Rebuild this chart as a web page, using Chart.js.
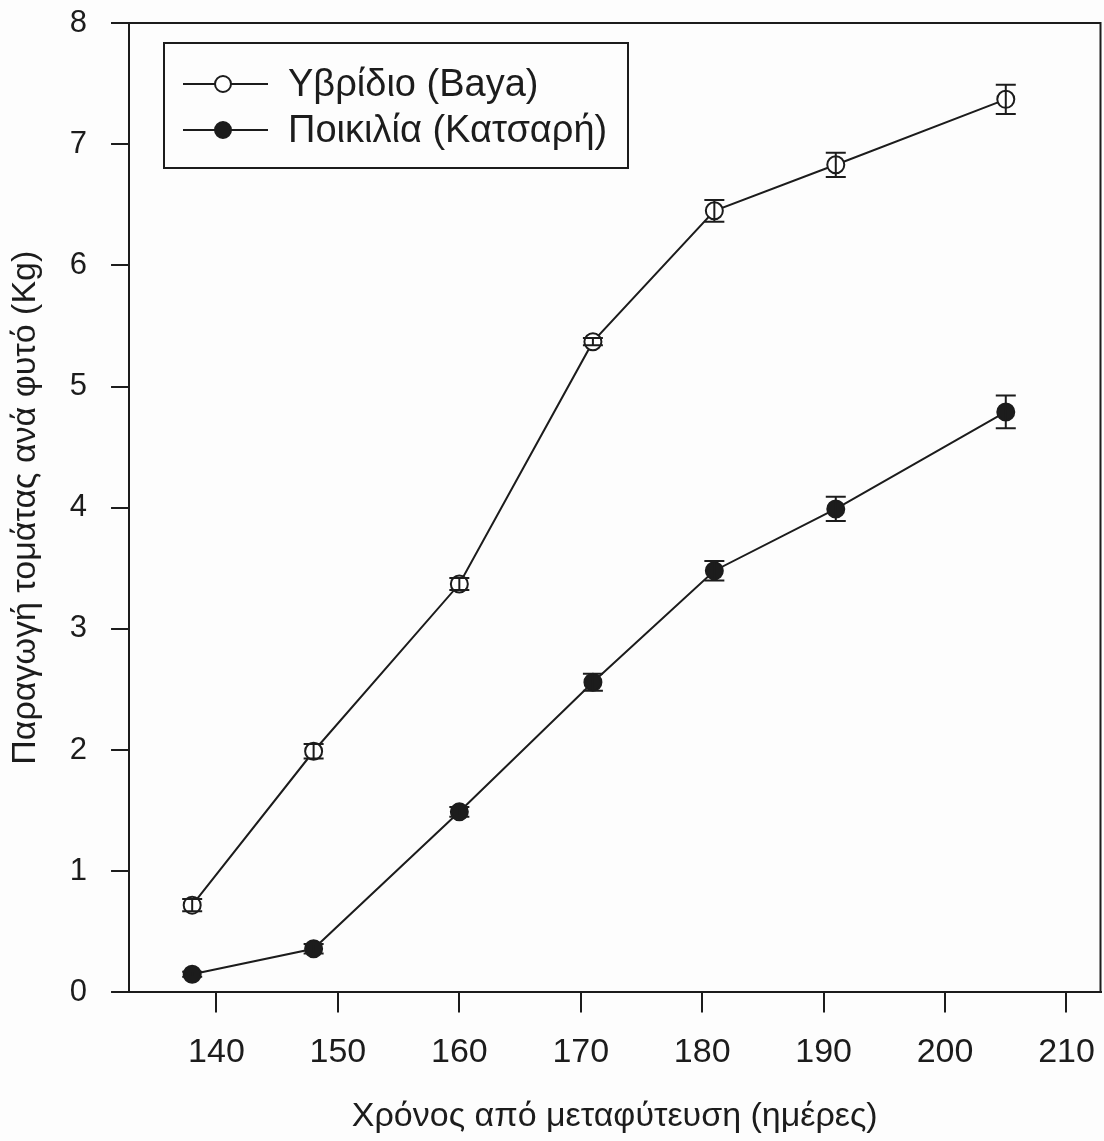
<!DOCTYPE html>
<html>
<head>
<meta charset="utf-8">
<script src="https://cdn.jsdelivr.net/npm/chart.js@4.4.1/dist/chart.umd.min.js"></script>
<style>
html,body{margin:0;padding:0;background:#fdfdfd;overflow:hidden;}
#wrap{width:1104px;height:1141px;position:relative;overflow:hidden;}
#c{position:absolute;left:0;top:0;}
</style>
</head>
<body>
<div id="wrap"><canvas id="c" width="1111" height="1141"></canvas></div>
<script>
const days = [138, 148, 160, 171, 181, 191, 205];
const hybridValues = [0.72, 1.99, 3.37, 5.37, 6.45, 6.83, 7.37];
const hybridErrors = [0.05, 0.06, 0.05, 0.03, 0.09, 0.10, 0.12];
const varietyValues = [0.15, 0.36, 1.49, 2.56, 3.48, 3.99, 4.79];
const varietyErrors = [0.02, 0.04, 0.04, 0.07, 0.08, 0.10, 0.135];
const seriesNames = ['Υβρίδιο (Baya)', 'Ποικιλία (Κατσαρή)'];
const xTicks = [140, 150, 160, 170, 180, 190, 200, 210];
const yTicks = [0, 1, 2, 3, 4, 5, 6, 7, 8];
const xTitle = 'Χρόνος από μεταφύτευση (ημέρες)';
const yTitle = 'Παραγωγή τομάτας ανά φυτό (Kg)';

const INK = '#1c1c1c';
const FONT = "'Liberation Sans', Arial, sans-serif";

const toPts = (xs, ys) => xs.map((x, i) => ({x: x, y: ys[i]}));

const errorBars = {
  id: 'errorBars',
  afterDatasetsDraw(chart) {
    const ctx = chart.ctx, xs = chart.scales.x, ys = chart.scales.y;
    ctx.save();
    ctx.strokeStyle = INK; ctx.lineWidth = 2;
    chart.data.datasets.forEach(ds => {
      ds.data.forEach((p, i) => {
        const e = ds.errors[i];
        const px = xs.getPixelForValue(p.x);
        const top = ys.getPixelForValue(p.y + e), bot = ys.getPixelForValue(p.y - e);
        ctx.beginPath();
        ctx.moveTo(px, top); ctx.lineTo(px, bot);
        ctx.moveTo(px - 10, top); ctx.lineTo(px + 10, top);
        ctx.moveTo(px - 10, bot); ctx.lineTo(px + 10, bot);
        ctx.stroke();
      });
    });
    ctx.restore();
  }
};

const frame = {
  id: 'frame',
  beforeDatasetsDraw(chart) {
    const a = chart.chartArea, ctx = chart.ctx;
    ctx.save();
    ctx.strokeStyle = INK; ctx.lineWidth = 2;
    ctx.beginPath();
    ctx.moveTo(a.left - 18, a.top); ctx.lineTo(a.right, a.top); ctx.lineTo(a.right, a.bottom);
    ctx.stroke();
    ctx.restore();
  }
};

const boxLegend = {
  id: 'boxLegend',
  afterDraw(chart) {
    const ctx = chart.ctx;
    const x0 = 164, y0 = 43, w = 464, h = 125;
    ctx.save();
    ctx.fillStyle = '#fdfdfd';
    ctx.fillRect(x0, y0, w, h);
    ctx.strokeStyle = INK; ctx.lineWidth = 2;
    ctx.strokeRect(x0, y0, w, h);
    chart.data.datasets.forEach((ds, i) => {
      const cy = 84 + i * 46;
      ctx.beginPath();
      ctx.moveTo(183, cy); ctx.lineTo(268, cy);
      ctx.strokeStyle = INK; ctx.lineWidth = 2; ctx.stroke();
      ctx.beginPath();
      ctx.arc(223, cy, 8, 0, Math.PI * 2);
      ctx.fillStyle = ds.pointBackgroundColor; ctx.fill();
      ctx.stroke();
      ctx.fillStyle = INK;
      ctx.font = '38px ' + FONT;
      ctx.textBaseline = 'middle';
      ctx.fillText(ds.label, 288, cy + 2);
    });
    ctx.restore();
  }
};

new Chart(document.getElementById('c'), {
  type: 'line',
  data: {
    datasets: [
      {label: seriesNames[0], data: toPts(days, hybridValues), errors: hybridErrors,
       borderColor: INK, borderWidth: 2, pointRadius: 8.5, pointBackgroundColor: '#ffffff',
       pointBorderColor: INK, pointBorderWidth: 2, tension: 0},
      {label: seriesNames[1], data: toPts(days, varietyValues), errors: varietyErrors,
       borderColor: INK, borderWidth: 2, pointRadius: 8.5, pointBackgroundColor: INK,
       pointBorderColor: INK, pointBorderWidth: 2, tension: 0}
    ]
  },
  options: {
    responsive: false,
    animation: false,
    layout: {padding: {top: 23, right: 4, left: 0, bottom: 0}},
    plugins: {legend: {display: false}, tooltip: {enabled: false}},
    scales: {
      x: {
        type: 'linear', min: 132.8, max: 212.8,
        afterBuildTicks: s => { s.ticks = xTicks.map(v => ({value: v})); },
        afterFit: s => { s.paddingLeft = 0; s.paddingRight = 0; },
        grid: {drawOnChartArea: false, tickLength: 20, color: INK, lineWidth: 2},
        border: {color: INK, width: 2},
        ticks: {color: INK, font: {size: 34, family: FONT}, padding: 20, maxRotation: 0},
        title: {display: true, text: xTitle, color: INK, font: {size: 34, family: FONT}, padding: {top: 3, bottom: 4}}
      },
      y: {
        type: 'linear', min: 0, max: 8,
        afterBuildTicks: s => { s.ticks = yTicks.map(v => ({value: v})); },
        afterFit: s => { s.paddingTop = 0; s.paddingBottom = 0; },
        grid: {drawOnChartArea: false, tickLength: 18, color: INK, lineWidth: 2},
        border: {color: INK, width: 2},
        ticks: {color: INK, font: {size: 31, family: FONT}, padding: 24},
        title: {display: true, text: yTitle, color: INK, font: {size: 34, family: FONT}, padding: {top: 5, bottom: 0}}
      }
    }
  },
  plugins: [frame, errorBars, boxLegend]
});
</script>
</body>
</html>
